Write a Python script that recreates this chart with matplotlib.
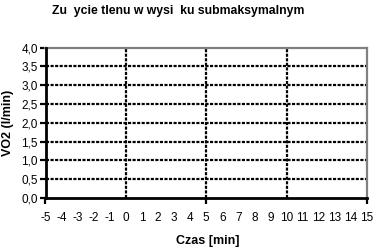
import matplotlib
matplotlib.use('Agg')
import matplotlib.pyplot as plt

plt.rcParams['font.family'] = ['Liberation Sans', 'DejaVu Sans']

title = 'Zu  ycie tlenu w wysi  ku submaksymalnym'
xlabel = 'Czas [min]'
ylabel = 'VO2 (l/min)'

x_ticks = list(range(-5, 16))
x_marks = [-5, 5, 15]
x_grid = [0, 5, 10]
y_ticks = [0.0, 0.5, 1.0, 1.5, 2.0, 2.5, 3.0, 3.5, 4.0]
y_labels = ['0,0', '0,5', '1,0', '1,5', '2,0', '2,5', '3,0', '3,5', '4,0']

W, H = 375, 252
fig = plt.figure(figsize=(W / 100, H / 100), dpi=100)
ax = fig.add_axes([45.5 / W, (H - 198) / H, (367 - 45.5) / W, (198 - 47.5) / H])

ax.set_xlim(-5, 15)
ax.set_ylim(0, 4)

# grid
dash = (0, (1.4, 0.65))
for y in y_ticks[1:-1]:
    ax.axhline(y, color='black', lw=1.6, ls=dash, zorder=1)
for x in x_grid:
    ax.axvline(x, color='black', lw=1.6, ls=dash, zorder=1)

# spines
for s in ['top', 'right']:
    ax.spines[s].set_color('#808080')
    ax.spines[s].set_linewidth(1.6)
for s in ['left', 'bottom']:
    ax.spines[s].set_color('black')
    ax.spines[s].set_linewidth(2)
    ax.spines[s].set_zorder(3)

ax.set_yticks(y_ticks)
ax.set_yticklabels(y_labels)
ax.tick_params(axis='y', length=4, width=1.6, labelsize=8.5, pad=1.5)

ax.xaxis.remove_overlapping_locs = False
ax.set_xticks(x_ticks)
ax.set_xticklabels([str(v) for v in x_ticks])
ax.tick_params(axis='x', which='major', length=0, labelsize=8.5, pad=10)
ax.set_xticks(x_marks, minor=True)
ax.tick_params(axis='x', which='minor', length=4, width=1.6, direction='out')

fig.text(178 / W, 1 - 11 / H, title, ha='center', va='center',
         fontsize=8.8, fontweight='bold')
fig.text(208 / W, 1 - 241 / H, xlabel, ha='center', va='center',
         fontsize=9, fontweight='bold')
fig.text(8 / W, 1 - 123 / H, ylabel, ha='center', va='center',
         fontsize=9, fontweight='bold', rotation=90)

fig.savefig('out.png', dpi=100)
